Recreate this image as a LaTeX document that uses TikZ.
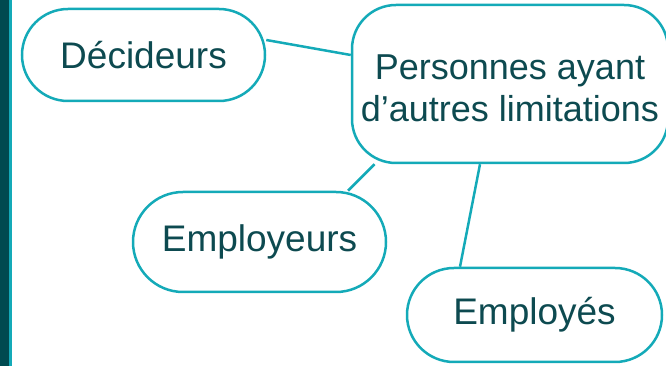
\documentclass[tikz,border=0pt]{standalone}
\usepackage{fontspec}
\setmainfont{Liberation Sans}
\usetikzlibrary{backgrounds}
\definecolor{darkteal}{HTML}{004A50}
\definecolor{lineteal}{HTML}{14AAB8}
\definecolor{txt}{HTML}{0D4A50}
\tikzset{
  bubble/.style={draw=lineteal, line width=2.5pt, fill=white, text=txt,
    font=\fontsize{37}{44}\selectfont, align=center, inner sep=0pt},
  link/.style={draw=lineteal, line width=2.5pt}
}
\begin{document}
\begin{tikzpicture}[x=1pt,y=1pt]
\useasboundingbox (0,0) rectangle (666,366);
\clip (0,0) rectangle (666,366);
\fill[darkteal] (0,0) rectangle (9,366);
\fill[lineteal] (9,0) rectangle (12,366);
\node[bubble, rounded corners=46pt, minimum width=243pt, minimum height=92pt] (dec) at (143.5,311) {Décideurs};
\node[bubble, rounded corners=44pt, minimum width=316pt, minimum height=158pt, font=\fontsize{36}{42}\selectfont] (cen) at (510,282) {\raisebox{-8.5pt}[\height][\depth]{\begin{tabular}{@{}c@{}}Personnes ayant\\d’autres limitations\end{tabular}}};
\node[bubble, rounded corners=50pt, minimum width=253pt, minimum height=100pt] (emr) at (259.5,124) {Employeurs};
\node[bubble, rounded corners=47pt, minimum width=255pt, minimum height=94pt] (emp) at (534.5,51) {Employés};
\begin{scope}[on background layer]
\draw[link] ([yshift=15pt]dec.east) -- ([yshift=29pt]cen.west);
\draw[link] ([xshift=-135.5pt]cen.south) -- ([xshift=88.5pt]emr.north);
\draw[link] ([xshift=-30pt]cen.south) -- ([xshift=-74.5pt]emp.north);
\end{scope}
\end{tikzpicture}
\end{document}
